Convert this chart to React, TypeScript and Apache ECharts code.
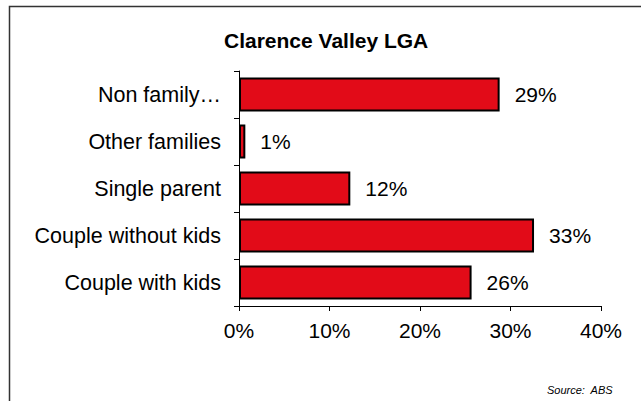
import React, { useEffect, useRef } from "react";
import * as echarts from "echarts";

const categories = ["Non family…", "Other families", "Single parent", "Couple without kids", "Couple with kids"];
const values = [28.8, 0.7, 12.3, 32.6, 25.7];
const xTicks = [0, 10, 20, 30, 40];
const titleText = "Clarence Valley LGA";
const sourceText = "Source:  ABS";

export default function App() {
  const ref = useRef<HTMLDivElement>(null);
  useEffect(() => {
    if (!ref.current) return;
    const chart = echarts.init(ref.current, null, { renderer: "svg" });
    const font = "'Liberation Sans', Arial, sans-serif";
    chart.setOption({
      animation: false,
      backgroundColor: "#ffffff",
      textStyle: { fontFamily: font },
      title: {
        text: titleText,
        left: 224,
        top: 30,
        padding: 0,
        textStyle: { fontFamily: font, fontSize: 21, fontWeight: "bold", color: "#000" },
      },
      graphic: [
        {
          type: "rect",
          shape: { x: 9.5, y: 6.5, width: 700, height: 500 },
          style: { fill: "none", stroke: "#333", lineWidth: 1.5 },
          silent: true,
        },
        {
          type: "text",
          right: 28,
          top: 384,
          style: {
            text: sourceText,
            fontFamily: font,
            fontSize: 11,
            fontStyle: "italic",
            fill: "#000",
          },
        },
      ],
      grid: { left: 239, right: 40, top: 71, bottom: 95, containLabel: false },
      xAxis: {
        type: "value",
        min: 0,
        max: 40,
        interval: 10,
        splitLine: { show: false },
        axisLine: { show: true, lineStyle: { color: "#000", width: 1 } },
        axisTick: { show: true, length: 5, lineStyle: { color: "#000" } },
        axisLabel: {
          margin: 14,
          fontSize: 21,
          color: "#000",
          fontFamily: font,
          formatter: (v: number) => (xTicks.includes(v) ? v + "%" : ""),
        },
      },
      yAxis: {
        type: "category",
        data: categories,
        inverse: true,
        axisLine: { show: true, lineStyle: { color: "#000", width: 1 } },
        axisTick: { show: true, length: 5, lineStyle: { color: "#000" } },
        axisLabel: { margin: 18, fontSize: 21.5, color: "#000", fontFamily: font },
      },
      series: [
        {
          type: "bar",
          data: values,
          barCategoryGap: "28%",
          itemStyle: { color: "#E20B18", borderColor: "#000", borderWidth: 2 },
          label: {
            show: true,
            position: "right",
            distance: 15,
            fontSize: 21,
            color: "#000",
            fontFamily: font,
            formatter: (p: any) => Math.round(p.value) + "%",
          },
        },
      ],
    });
    return () => chart.dispose();
  }, []);
  return (
    <div
      ref={ref}
      style={{ position: "fixed", left: 0, top: 0, width: 641, height: 401 }}
    />
  );
}
